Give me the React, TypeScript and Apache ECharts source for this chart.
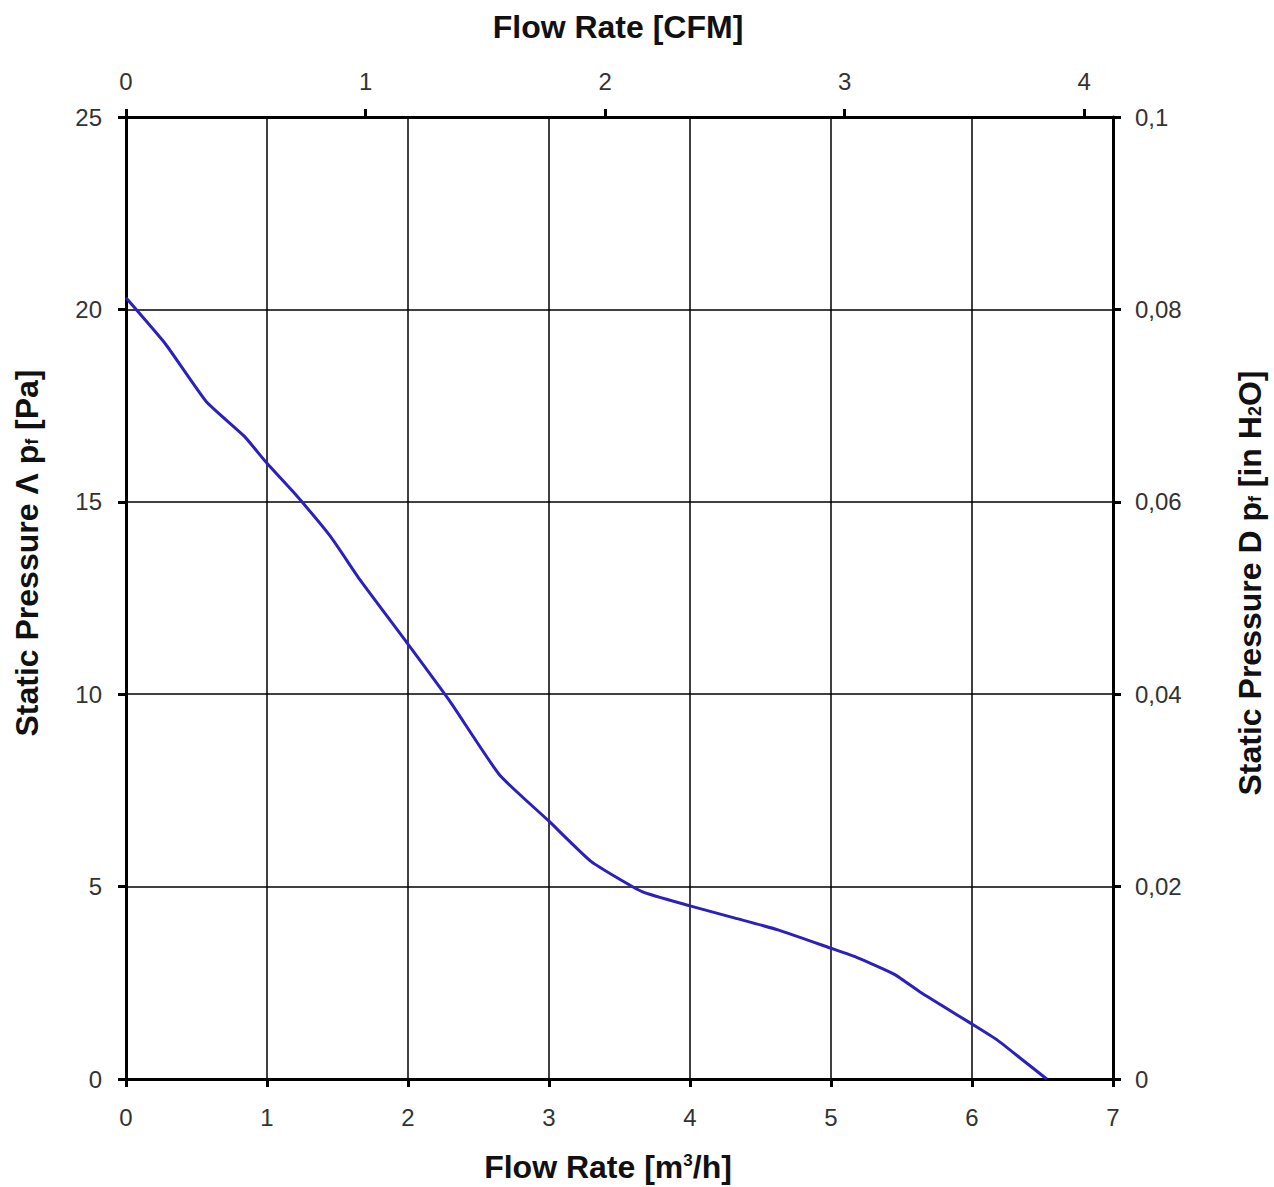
import React, { useEffect, useRef } from "react";
import * as echarts from "echarts";

const flowM3h = [0, 0.28, 0.57, 0.84, 1.0, 1.2, 1.45, 1.66, 2.0, 2.3, 2.65, 3.0, 3.3, 3.66, 4.0, 4.3, 4.63, 4.99, 5.19, 5.45, 5.64, 5.99, 6.18, 6.35, 6.53];
const pressurePa = [20.3, 19.1, 17.6, 16.7, 16.0, 15.2, 14.1, 12.97, 11.3, 9.8, 7.9, 6.7, 5.65, 4.87, 4.5, 4.2, 3.87, 3.41, 3.15, 2.72, 2.24, 1.45, 1.01, 0.52, 0];
const xMaxM3h = 7;
const m3hPerCfm = 1.699;
const yMaxPa = 25;
const yMaxInH2O = 0.1;

const FONT = "Arial, 'Liberation Sans', sans-serif";

export default function App() {
  const ref = useRef<HTMLDivElement>(null);
  useEffect(() => {
    if (!ref.current) return;
    const chart = echarts.init(ref.current, null, { renderer: "svg" });
    const axisLine = { show: true, onZero: false, lineStyle: { color: "#000", width: 3 } };
    const axisTick = { show: true, length: 8, lineStyle: { color: "#000", width: 3 } };
    const axisLabel = { color: "#333", fontSize: 24, fontFamily: FONT };
    const splitLine = { show: true, lineStyle: { color: "#000", width: 1.5 } };
    chart.setOption({
      animation: false,
      backgroundColor: "#fff",
      grid: { left: 126, right: 161, top: 117, bottom: 108, containLabel: false },
      xAxis: [
        {
          type: "value", position: "bottom", min: 0, max: xMaxM3h, interval: 1,
          axisLine, axisTick, splitLine,
          axisLabel: { ...axisLabel, margin: 26 },
        },
        {
          type: "value", position: "top", min: 0, max: xMaxM3h / m3hPerCfm, interval: 1,
          axisLine, axisTick, splitLine: { show: false },
          axisLabel: { ...axisLabel, margin: 24, showMaxLabel: false },
        },
      ],
      yAxis: [
        {
          type: "value", position: "left", min: 0, max: yMaxPa, interval: 5,
          axisLine, axisTick, splitLine,
          axisLabel: { ...axisLabel, margin: 24 },
        },
        {
          type: "value", position: "right", min: 0, max: yMaxInH2O, interval: 0.02,
          axisLine, axisTick, splitLine: { show: false },
          axisLabel: {
            ...axisLabel, margin: 22,
            formatter: (v: number) => String(+v.toFixed(2)).replace(".", ","),
          },
        },
      ],
      series: [
        {
          type: "line",
          xAxisIndex: 0,
          yAxisIndex: 0,
          data: flowM3h.map((x, i) => [x, pressurePa[i]]),
          showSymbol: false,
          smooth: 0.15,
          lineStyle: { color: "#2a20c0", width: 3 },
          z: 5,
        },
      ],
      graphic: [
        {
          type: "text", x: 618, y: 27,
          style: { text: "Flow Rate [CFM]", font: `bold 32px ${FONT}`, fill: "#111", align: "center", verticalAlign: "middle" },
        },
        {
          type: "text", x: 608, y: 1167,
          style: {
            text: "{a|Flow Rate [m}{s|3}{a|/h]}",
            align: "center", verticalAlign: "middle",
            rich: {
              a: { font: `bold 32px ${FONT}`, fill: "#111" },
              s: { font: `bold 17px ${FONT}`, fill: "#111", padding: [0, 0, 14, 0] },
            },
          },
        },
        {
          type: "text", x: 27, y: 553, rotation: Math.PI / 2,
          style: {
            text: "{a|Static Pressure Λ p}{s|f}{a| [Pa]}",
            align: "center", verticalAlign: "middle",
            rich: {
              a: { font: `bold 32px ${FONT}`, fill: "#111" },
              s: { font: `bold 18px ${FONT}`, fill: "#111", padding: [10, 0, 0, 0] },
            },
          },
        },
        {
          type: "text", x: 1250, y: 583, rotation: Math.PI / 2,
          style: {
            text: "{a|Static Pressure D p}{s|f}{a| [in H}{s|2}{a|O]}",
            align: "center", verticalAlign: "middle",
            rich: {
              a: { font: `bold 32px ${FONT}`, fill: "#111" },
              s: { font: `bold 18px ${FONT}`, fill: "#111", padding: [10, 0, 0, 0] },
            },
          },
        },
      ],
    });
    return () => chart.dispose();
  }, []);
  return (
    <div
      ref={ref}
      style={{ position: "absolute", left: 0, top: 0, width: 1274, height: 1187, background: "#fff" }}
    />
  );
}
